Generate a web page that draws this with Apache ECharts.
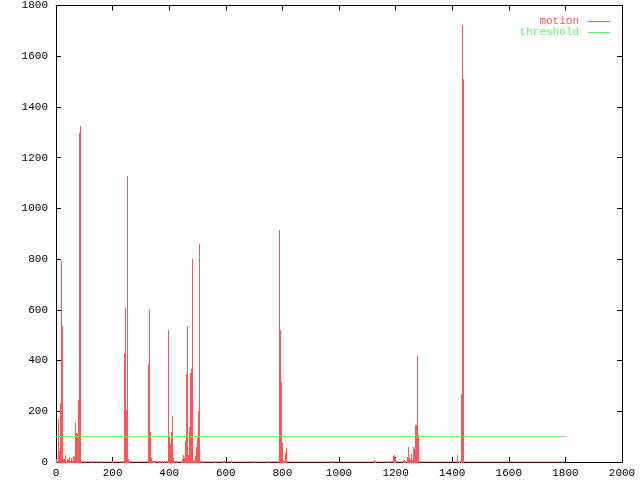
<!DOCTYPE html>
<html><head><meta charset="utf-8">
<script src="https://cdn.jsdelivr.net/npm/echarts@6/dist/echarts.min.js"></script>
<style>html,body{margin:0;padding:0;background:#fff}#c{width:640px;height:480px}</style>
</head><body><div id="c"></div>
<script>
// Frame numbers (x) and motion values (y) of the impulses
var frames = [3,8,12,15,19,22,26,29,33,36,40,43,47,50,54,57,61,65,68,72,76,80,83,87,90,
  100,130,160,200,230,237,241,245,248,252,255,259,
  326,330,333,337,341,344,348,351,364,368,371,375,385,391,
  398,402,405,409,412,416,419,426,444,448,451,455,458,462,465,469,472,476,480,483,487,490,494,497,501,504,508,512,519,563,
  591,597,620,700,747,788,791,795,798,802,805,809,812,815,
  973,1127,1130,1170,1173,1191,1194,1197,1200,1229,1232,1236,1243,1247,1250,1253,1257,1260,1264,1268,1271,1275,1278,1282,
  1418,1426,1432,1435,1439];
var motion = [12,169,45,232,792,536,12,10,28,4,12,6,18,4,15,4,25,18,155,114,112,244,1297,1323,5,
  2,2,2,2,2,5,430,607,205,1126,10,3,
  386,602,120,15,5,4,4,4,5,4,5,3,3,4,
  520,104,72,120,181,14,5,3,3,10,27,14,84,346,536,27,139,352,367,801,3,8,25,60,96,202,859,4,5,5,
  4,4,4,2,4,260,914,520,316,75,9,4,35,55,
  4,8,3,2,3,24,20,28,17,4,8,4,20,59,17,8,31,8,59,52,146,146,417,106,
  28,4,268,1725,1510];
var threshold = 100;
var frameRange = [0, 1800];
var xTicks = [0, 2000, 200];
var yTicks = [0, 1800, 200];

var impulses = frames.map(function(f, i){ return [f, motion[i]]; });
var RED = '#ff5555', GREEN = '#66ee66';
var FONT = 'Liberation Mono';

var chart = echarts.init(document.getElementById('c'), null, {renderer: 'canvas'});
var axisCommon = {
  axisLine: {show: true, onZero: false, lineStyle: {color: '#000', width: 1}},
  axisTick: {show: true, inside: true, length: 5, lineStyle: {color: '#000'}},
  splitLine: {show: false}
};
function plain(v){ return String(v); }
chart.setOption({
  animation: false,
  backgroundColor: '#fff',
  grid: {left: 56, right: 18, top: 5, bottom: 18, containLabel: false},
  legend: [
    {data: [{name: 'motion', textStyle: {color: RED}}], right: 30, top: 16, align: 'right',
     icon: 'rect', itemWidth: 22, itemHeight: 1, itemGap: 0, padding: 0,
     textStyle: {fontFamily: FONT, fontSize: 11, padding: [0, 4, 0, 0]}, selectedMode: false},
    {data: [{name: 'threshold', textStyle: {color: GREEN}}], right: 30, top: 27, align: 'right',
     icon: 'rect', itemWidth: 22, itemHeight: 1, itemGap: 0, padding: 0,
     textStyle: {fontFamily: FONT, fontSize: 11, padding: [0, 4, 0, 0]}, selectedMode: false}
  ],
  xAxis: [
    Object.assign({type: 'value', position: 'bottom', min: xTicks[0], max: xTicks[1], interval: xTicks[2],
      axisLabel: {color: '#000', fontFamily: FONT, fontSize: 11, margin: 6, formatter: plain}}, axisCommon),
    Object.assign({type: 'value', position: 'top', min: xTicks[0], max: xTicks[1], interval: xTicks[2],
      axisLabel: {show: false}}, axisCommon)
  ],
  yAxis: [
    Object.assign({type: 'value', position: 'left', min: yTicks[0], max: yTicks[1], interval: yTicks[2],
      axisLabel: {color: '#000', fontFamily: FONT, fontSize: 11, margin: 8, formatter: plain}}, axisCommon),
    Object.assign({type: 'value', position: 'right', min: yTicks[0], max: yTicks[1], interval: yTicks[2],
      axisLabel: {show: false}}, axisCommon)
  ],
  series: [
    {
      name: 'motion', type: 'custom', xAxisIndex: 0, yAxisIndex: 0, z: 3,
      itemStyle: {color: RED},
      data: impulses,
      renderItem: function(params, api){
        var top = api.coord([api.value(0), api.value(1)]);
        var base = api.coord([api.value(0), 0]);
        var x = Math.floor(top[0]);
        var y = Math.round(top[1]);
        return {type: 'rect', shape: {x: x, y: y, width: 1, height: Math.max(1, Math.round(base[1]) - y + 1)},
          style: {fill: RED}};
      }
    },
    {
      name: 'motion', type: 'line', xAxisIndex: 0, yAxisIndex: 0, z: 4, symbol: 'none',
      lineStyle: {color: RED, width: 1}, itemStyle: {color: RED},
      data: [[frameRange[0], 0], [frameRange[1], 0]]
    },
    {
      name: 'threshold', type: 'line', xAxisIndex: 0, yAxisIndex: 0, z: 5, symbol: 'none',
      lineStyle: {color: GREEN, width: 1}, itemStyle: {color: GREEN},
      data: [[frameRange[0], threshold], [frameRange[1], threshold]]
    }
  ]
});
</script></body></html>
